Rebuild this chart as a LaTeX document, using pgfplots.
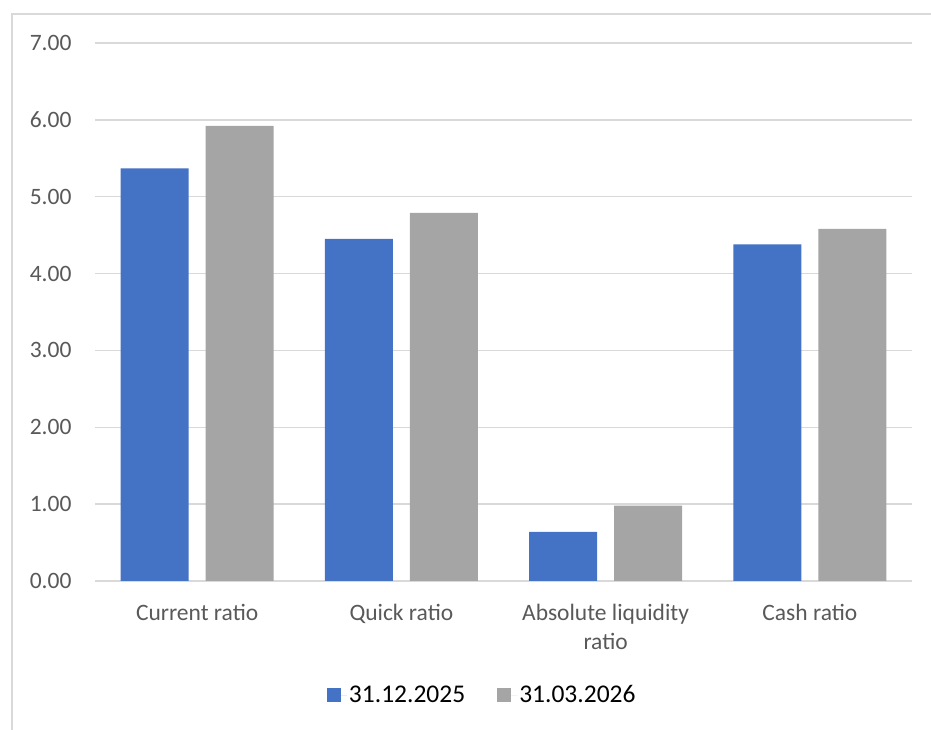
\documentclass[border=0pt]{standalone}
\usepackage{fontspec}
\setmainfont{Carlito}
\usepackage{pgfplots}
\pgfplotsset{compat=1.18}
\definecolor{barblue}{HTML}{4472C4}
\definecolor{bargray}{HTML}{A5A5A5}
\definecolor{gridgray}{HTML}{D9D9D9}
\definecolor{labelgray}{HTML}{595959}
\begin{document}
\begin{tikzpicture}[x=1pt,y=1pt]
\useasboundingbox (0,0) rectangle (931,730);
\draw[gridgray, line width=1.5pt] (12,0) -- (12,716) -- (931,716);
\begin{axis}[
  at={(95pt,149pt)}, anchor=south west,
  scale only axis, width=817pt, height=538pt,
  xmin=-0.5, xmax=3.5, ymin=0, ymax=7,
  ybar=17pt, bar width=68pt,
  axis line style={draw=none},
  major tick length=0pt,
  ymajorgrids, grid style={gridgray, line width=1.5pt},
  ytick={0,1,...,7},
  yticklabel={\pgfmathprintnumber[fixed,fixed zerofill,precision=2]{\tick}},
  xtick=data,
  xticklabels={Current ratio, Quick ratio, {Absolute liquidity\\ratio}, Cash ratio},
  /pgf/number format/assume math mode=true,
  ticklabel style={font=\fontsize{23.5}{29}\selectfont, text=labelgray},
  yticklabel style={anchor=east, xshift=-20pt},
  xticklabel style={align=center, anchor=north, yshift=-20pt},
  legend columns=2,
  legend style={at={(0.474,-0.212)}, anchor=center, draw=none,
    font=\fontsize{25.5}{30}\selectfont,
    /tikz/every even column/.append style={column sep=30pt}},
  legend image code/.code={\fill[#1] (0pt,-7pt) rectangle (14pt,7pt);
    \path (0pt,0pt) -- (20pt,0pt);},
]
\addplot[fill=barblue, draw=none] coordinates {(0,5.37) (1,4.45) (2,0.64) (3,4.38)};
\addplot[fill=bargray, draw=none] coordinates {(0,5.92) (1,4.79) (2,0.98) (3,4.58)};
\legend{31.12.2025, 31.03.2026}
\end{axis}
\end{tikzpicture}
\end{document}
